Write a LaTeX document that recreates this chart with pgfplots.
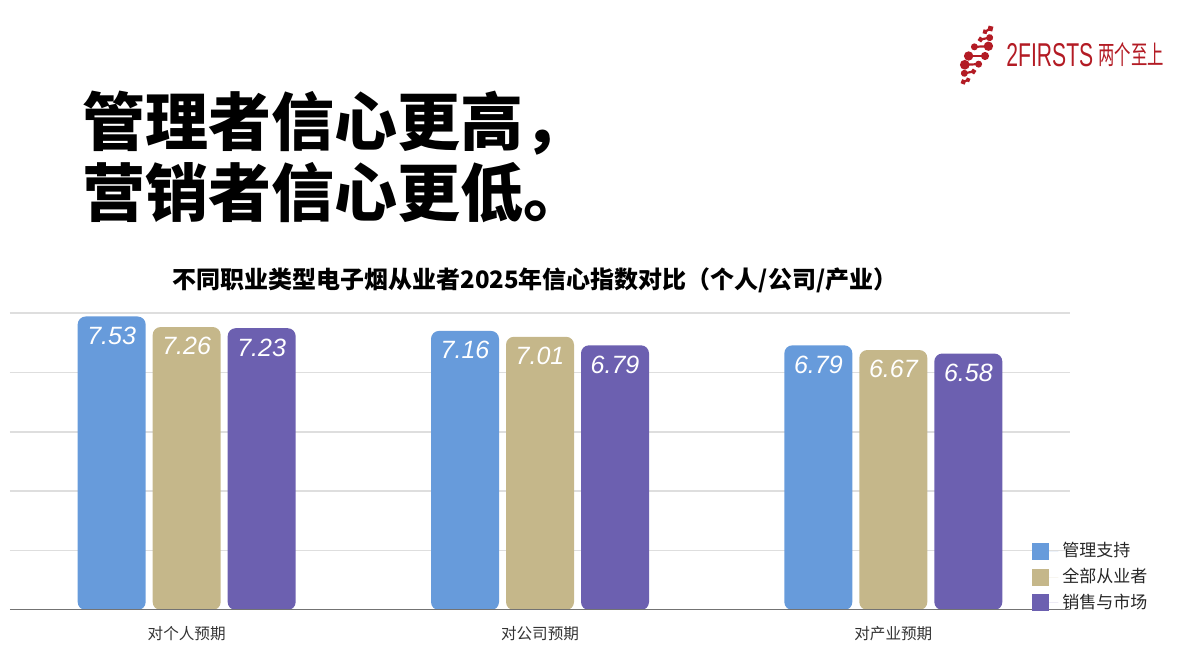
\documentclass[border=0pt]{standalone}
\usepackage{fontspec}
\setmainfont{Noto Sans CJK SC}
\newfontfamily\latinsans{Liberation Sans}
\usepackage{graphicx}
\usepackage{pgfplots}
\usepackage{pgfplotstable}
\pgfplotsset{compat=1.18}
\usetikzlibrary{arrows.meta}

\definecolor{cMgmt}{RGB}{103,155,219}
\definecolor{cAll}{RGB}{197,183,138}
\definecolor{cSales}{RGB}{108,96,176}
\definecolor{logored}{RGB}{179,27,36}

% confidence index by occupation: personal / company / industry
\pgfplotstableread{
x mgmt all sales
0 7.53 7.26 7.23
1 7.16 7.01 6.79
2 6.79 6.67 6.58
}\confdata

\begin{document}
\begin{tikzpicture}
\path[use as bounding box] (0,0) rectangle (600pt,-336pt);

% headline
\node[anchor=west, inner sep=0pt, font=\bfseries\fontsize{31.5}{35}\selectfont] at (41pt,-61.5pt) {管理者信心更高，};
\node[anchor=west, inner sep=0pt, font=\bfseries\fontsize{31.5}{35}\selectfont] at (41pt,-96.5pt) {营销者信心更低。};

% logo
\begin{scope}[x=0.5pt, y=-0.5pt, draw=logored, fill=logored, line width=1.1pt]
  \draw[{Circle[length=2.4pt]}-{Circle[length=3pt]}] (983,33) -- (993,27);
  \draw[{Circle[length=2.6pt]}-{Circle[length=3.4pt]}] (978,40) -- (993,37);
  \draw[{Circle[length=3.4pt]}-{Circle[length=4.6pt]}] (971,47) -- (993,46);
  \draw[{Circle[length=4.6pt]}-{Circle[length=4pt]}] (964,56) -- (989,56);
  \draw[{Circle[length=4.8pt]}-{Circle[length=3.4pt]}] (960,65) -- (982,64);
  \draw[{Circle[length=3.4pt]}-{Circle[length=2.6pt]}] (961,74) -- (976,71);
  \draw[{Circle[length=2.6pt]}-{Circle[length=2.2pt]}] (961,83) -- (970,79);
\end{scope}
\node[anchor=west, inner sep=0pt, text=logored, font=\latinsans\fontsize{16.5}{17}\selectfont] at (503pt,-27.5pt) {\scalebox{0.64}[1]{2FIRSTS}};
\node[anchor=west, inner sep=0pt, text=logored, font=\fontsize{13}{14}\selectfont] at (549pt,-27.5pt) {\scalebox{0.63}[1]{两个至上}};

% chart title
\node[inner sep=0pt, font=\bfseries\fontsize{12}{14}\selectfont] at (267.5pt,-140pt) {不同职业类型电子烟从业者2025年信心指数对比（个人/公司/产业）};

\begin{axis}[
  at={(5pt,-305pt)}, anchor=south west,
  scale only axis, width=530pt, height=148.5pt,
  % shift the value scale by one so that the bars start below the visible
  % axis and their rounded lower corners are clipped away
  y coord trafo/.code={\pgfmathparse{#1+1}},
  y coord inv trafo/.code={\pgfmathparse{#1-1}},
  xmin=-0.5, xmax=2.5, ymin=0, ymax=7.62,
  axis line style={draw=none},
  tick style={draw=none},
  xtick={0,1,2},
  xticklabels={对个人预期,对公司预期,对产业预期},
  xticklabel style={font=\fontsize{7.8}{9}\selectfont, text=black!80, yshift=-0.5pt},
  ytick={1.524,3.048,4.572,6.096,7.62}, yticklabels={},
  ymajorgrids, grid style={color=black!13, line width=0.8pt},
  ybar, bar width=34pt,
  point meta=rawy,
  /pgf/number format/.cd, fixed, fixed zerofill, precision=2, assume math mode=true, /pgfplots/.cd,
  every node near coord/.append style={font=\latinsans\itshape\fontsize{12.5}{12.5}\selectfont,
    text=white, anchor=north, inner sep=0pt, yshift=-5pt},
  legend style={at={(0.964,0.242)}, anchor=north west, draw=none, fill=none,
    inner sep=0pt, font=\fontsize{8.5}{10}\selectfont, text=black!85,
    row sep=0.2pt, cells={anchor=west}},
  legend image code/.code={\fill[#1, sharp corners] (0pt,-4.25pt) rectangle (8.5pt,4.25pt);
    \path (0pt,0pt) -- (13pt,0pt);},
]
\addplot[fill=cMgmt, draw=none, rounded corners=4pt, bar shift=-37.5pt, nodes near coords]
  table[x=x, y=mgmt] {\confdata};
\addlegendentry{管理支持}
\addplot[fill=cAll, draw=none, rounded corners=4pt, bar shift=0pt, nodes near coords]
  table[x=x, y=all] {\confdata};
\addlegendentry{全部从业者}
\addplot[fill=cSales, draw=none, rounded corners=4pt, bar shift=37.5pt, nodes near coords]
  table[x=x, y=sales] {\confdata};
\addlegendentry{销售与市场}

\draw[black!55, line width=0.8pt] (rel axis cs:0,0) -- (rel axis cs:1,0);
\end{axis}
\end{tikzpicture}
\end{document}
